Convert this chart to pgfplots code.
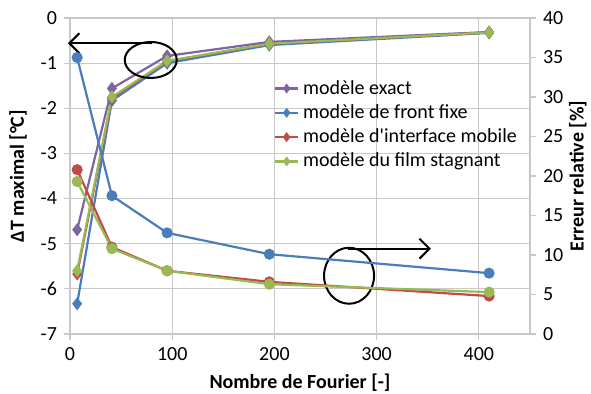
\documentclass[border=0pt]{standalone}
\usepackage{fontspec}
\setmainfont{Carlito}
\usepackage{pgfplots}
\pgfplotsset{compat=1.18}
\usetikzlibrary{arrows.meta}

\definecolor{cexact}{RGB}{128,100,162}
\definecolor{cfixe}{RGB}{74,126,187}
\definecolor{cmobile}{RGB}{190,75,72}
\definecolor{cfilm}{RGB}{152,185,84}
\definecolor{gridc}{RGB}{200,200,200}

\pgfplotsset{
  chartbase/.style={
    scale only axis, width=230pt, height=158pt,
    xmin=0, xmax=450,
    font=\fontsize{10}{12}\selectfont,
    /pgf/number format/assume math mode=true,
    tick style={gridc, line width=0.6pt},
    major tick length=3pt,
    tick align=outside,
    axis line style={gridc, line width=0.6pt},
    label style={font=\fontsize{10}{12}\selectfont\bfseries},
  },
  dt/.style={line width=1.1pt, mark=diamond*, mark size=2.4pt},
  er/.style={line width=1.1pt, mark=*, mark size=2.2pt},
}

\begin{document}
\begin{tikzpicture}
\useasboundingbox (-35pt,-30pt) rectangle (260.5pt,167pt);

\begin{axis}[
  chartbase,
  ymin=-7, ymax=0, ytick={-7,-6,...,0},
  xtick={0,100,...,400},
  xtick pos=bottom, ytick pos=left,
  grid=major, major grid style={gridc, line width=0.6pt},
  xlabel={Nombre de Fourier [-]},
  ylabel={ΔT maximal [°C]},
  clip=false,
  legend style={at={(0.43,0.83)}, anchor=north west, draw=none, fill=none,
    font=\fontsize{10}{12}\selectfont, row sep=-0.3pt},
  legend cell align=left,
  legend image code/.code={\draw[#1] (0cm,0cm) -- (0.4cm,0cm);
    \draw[#1, mark size=1.6pt] plot coordinates {(0.2cm,0cm)};},
]
\addplot[dt, color=cexact] coordinates {(7,-4.69) (41,-1.56) (95,-0.84) (195,-0.53) (410,-0.31)};
\addlegendentry{modèle exact}
\addplot[dt, color=cfixe] coordinates {(7,-6.33) (41,-1.83) (95,-1.00) (195,-0.60) (410,-0.33)};
\addlegendentry{modèle de front fixe}
\addplot[dt, color=cmobile] coordinates {(7,-5.67) (41,-1.78) (95,-0.96) (195,-0.57) (410,-0.32)};
\addlegendentry{modèle d\textquotesingle interface mobile}
\addplot[dt, color=cfilm] coordinates {(7,-5.60) (41,-1.75) (95,-0.95) (195,-0.57) (410,-0.32)};
\addlegendentry{modèle du film stagnant}

\draw[line width=1pt] (axis cs:79,-0.93) ellipse [x radius=13pt, y radius=9pt];
\draw[line width=1pt, -{Straight Barb[length=5pt,width=10pt]}] (axis cs:80,-0.56) -- (axis cs:-2,-0.56);
\draw[line width=1pt] (axis cs:273,-5.71) ellipse [x radius=12.5pt, y radius=14pt];
\draw[line width=1pt, -{Straight Barb[length=5pt,width=10pt]}] (axis cs:272,-5.11) -- (axis cs:353,-5.11);
\end{axis}

\begin{axis}[
  chartbase,
  axis x line=none,
  axis y line*=right,
  ymin=0, ymax=40, ytick={0,5,...,40},
  ylabel={Erreur relative [\%]},
  ylabel shift=-4pt,
]
\addplot[er, color=cfixe] coordinates {(7,35.0) (41,17.5) (95,12.8) (195,10.1) (410,7.7)};
\addplot[er, color=cmobile] coordinates {(7,20.8) (41,11.0) (95,8.0) (195,6.6) (410,4.8)};
\addplot[er, color=cfilm] coordinates {(7,19.3) (41,10.8) (95,8.0) (195,6.3) (410,5.3)};
\end{axis}
\end{tikzpicture}
\end{document}
